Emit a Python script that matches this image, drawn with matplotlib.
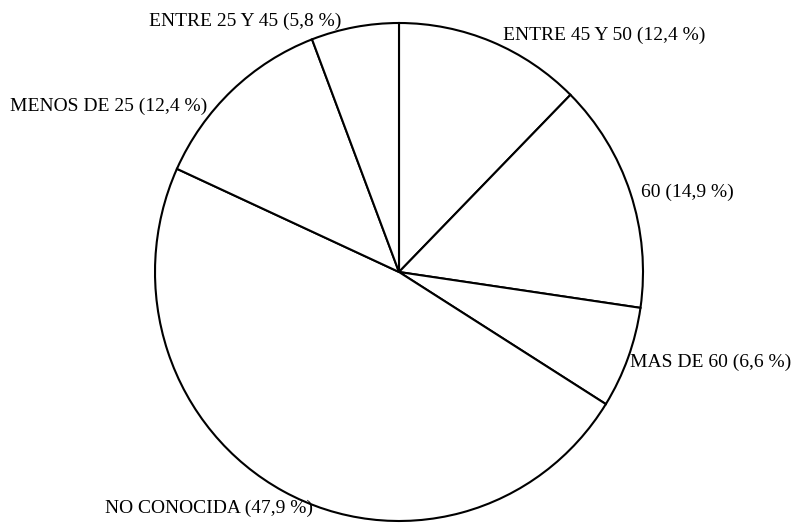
import matplotlib
matplotlib.use('Agg')
import matplotlib.pyplot as plt
import numpy as np

# ---- data ----
categories = ['ENTRE 45 Y 50', '60', 'MAS DE 60', 'NO CONOCIDA', 'MENOS DE 25', 'ENTRE 25 Y 45']
shares = [12.4, 14.9, 6.6, 47.9, 12.4, 5.8]

labels = [f"{c} ({str(v).replace('.', ',')} %)" for c, v in zip(categories, shares)]

# ---- label placement style: angular nudge (deg) from wedge middle, radius ----
label_nudge = [-1.8, -0.7, -0.9, 7.9, 6.5, 2.8]
label_radius = [1.043, 1.043, 1.015, 1.011, 1.028, 1.034]

plt.rcParams['font.family'] = ['Liberation Serif', 'DejaVu Serif']

fig = plt.figure(figsize=(7.99, 5.31), dpi=100)
ax = fig.add_axes([0, 0, 1, 1])
wedges, _ = ax.pie(shares, startangle=90, counterclock=False, radius=1, center=(0, 0),
                   wedgeprops=dict(facecolor='white', edgecolor='black', linewidth=1.5),
                   frame=False)
ax.set_aspect('auto')
ax.set_xlim(-399 / 244, 400 / 244)
ax.set_ylim(-259 / 249, 272 / 249)
ax.axis('off')

for w, lab, dn, r in zip(wedges, labels, label_nudge, label_radius):
    th = np.deg2rad((w.theta1 + w.theta2) / 2 + dn)
    x, y = r * np.cos(th), r * np.sin(th)
    ax.text(x, y, lab, ha='left' if x > 0 else 'right', va='center',
            fontsize=14, color='black')

fig.savefig('out.png', dpi=100, facecolor='white')
